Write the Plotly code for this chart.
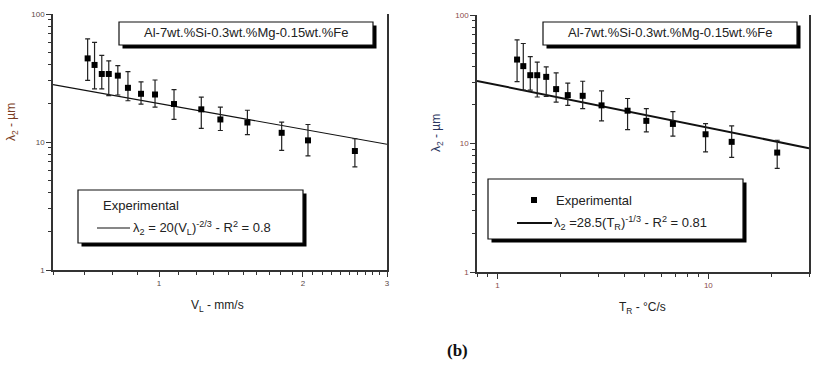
import plotly.graph_objects as go
import math

# ---------------- data ----------------
VL = [0.709, 0.733, 0.759, 0.785, 0.820, 0.861, 0.917, 0.981, 1.075, 1.226, 1.344, 1.531, 1.806, 2.05, 2.57]
TR = [1.239, 1.326, 1.431, 1.544, 1.703, 1.898, 2.155, 2.536, 3.116, 4.14, 5.08, 6.79, 9.7, 12.9, 21.2]
lam2 = [45, 40, 34, 34, 33, 26.5, 23.8, 23.5, 19.8, 18, 15, 14.2, 11.8, 10.3, 8.5]
lam2_upper = [64, 60, 47.5, 43, 39.5, 35.5, 29.5, 30.5, 25.7, 22.4, 18.7, 17.7, 14.3, 13.7, 10.6]
lam2_lower = [30.3, 26, 26, 23, 23.3, 21, 19.8, 18.7, 15, 12.8, 12.3, 11.4, 8.6, 7.8, 6.4]

fitV_x = [0.6, 3.0]
fitV_y = [28.1, 9.6]
fitT_x = [0.8, 30.0]
fitT_y = [30.7, 9.2]

err_plus = [u - m for u, m in zip(lam2_upper, lam2)]
err_minus = [m - l for m, l in zip(lam2, lam2_lower)]

W, H = 813, 366
def px(x): return x / W
def py(y): return 1 - y / H

FONT = "Arial, Liberation Sans, sans-serif"
AX = "#333333"

fig = go.Figure()

for xs, fx, fy, xa, ya, lw in [(VL, fitV_x, fitV_y, "x", "y", 1.2),
                                (TR, fitT_x, fitT_y, "x2", "y2", 2.0)]:
    fig.add_trace(go.Scatter(
        x=fx, y=fy, mode="lines", line=dict(color="#111111", width=lw),
        xaxis=xa, yaxis=ya, showlegend=False, hoverinfo="skip"))
    fig.add_trace(go.Scatter(
        x=xs, y=lam2, mode="markers",
        marker=dict(symbol="square", size=6, color="#000000"),
        error_y=dict(type="data", symmetric=False, array=err_plus, arrayminus=err_minus,
                     color="#222222", thickness=1.2, width=2.5),
        xaxis=xa, yaxis=ya, showlegend=False))

tickfont_l = dict(family=FONT, size=8, color="#5a4848")
tickfont_r = dict(family=FONT, size=8, color="#8a4a4a")

common_x = dict(type="log", showgrid=False, zeroline=False, showline=True, linecolor=AX,
                linewidth=1.5, ticks="outside", ticklen=5, tickcolor=AX, tickwidth=1.2,
                automargin=False)
common_y = dict(type="log", range=[0, 2], showgrid=False, zeroline=False, showline=True,
                linecolor=AX, linewidth=1.5, mirror=True, ticks="outside", ticklen=5,
                tickcolor=AX, tickwidth=1.2, tickmode="array", tickvals=[1, 10, 100],
                ticktext=["1", "10", "100"], automargin=False,
                minor=dict(dtick="D1", ticks="outside", ticklen=3, tickcolor=AX, showgrid=False))

fig.update_layout(
    width=W, height=H, margin=dict(l=0, r=0, t=0, b=0, autoexpand=False),
    paper_bgcolor="white", plot_bgcolor="white", showlegend=False,
    xaxis=dict(**common_x, domain=[px(53), px(387)], anchor="y",
               range=[math.log10(0.6), math.log10(3)],
               tickmode="array", tickvals=[1, 2, 3], ticktext=["1", "2", "3"],
               tickfont=tickfont_l,
               minor=dict(dtick="L0.1", ticks="outside", ticklen=3, tickcolor=AX, showgrid=False)),
    yaxis=dict(**common_y, domain=[py(270), py(14)], anchor="x", tickfont=tickfont_l),
    xaxis2=dict(**common_x, domain=[px(477), px(809)], anchor="y2",
                range=[math.log10(0.8), math.log10(30)],
                tickmode="array", tickvals=[1, 10], ticktext=["1", "10"],
                tickfont=tickfont_r,
                minor=dict(dtick="D1", ticks="outside", ticklen=3, tickcolor=AX, showgrid=False)),
    yaxis2=dict(**common_y, domain=[py(272), py(15)], anchor="x2", tickfont=tickfont_r),
)

shapes = []
def box(x0, y0, x1, y1, sh=3.5):
    shapes.append(dict(type="rect", xref="paper", yref="paper",
                       x0=px(x0 + sh), x1=px(x1 + sh), y0=py(y1 + sh), y1=py(y0 + sh),
                       fillcolor="#000000", line=dict(width=0), layer="above"))
    shapes.append(dict(type="rect", xref="paper", yref="paper",
                       x0=px(x0), x1=px(x1), y0=py(y1), y1=py(y0),
                       fillcolor="white", line=dict(color="#111111", width=1.2), layer="above"))

box(119, 22, 373, 45)
box(543, 22, 797, 45)
box(78, 190, 303, 243)
box(488, 179, 743, 239)

# legend samples
shapes.append(dict(type="line", xref="paper", yref="paper", x0=px(97), x1=px(130), y0=py(228), y1=py(228),
                   line=dict(color="#111111", width=1.2), layer="above"))
shapes.append(dict(type="line", xref="paper", yref="paper", x0=px(517), x1=px(552), y0=py(223), y1=py(223),
                   line=dict(color="#111111", width=2), layer="above"))
shapes.append(dict(type="rect", xref="paper", yref="paper", x0=px(531), x1=px(537), y0=py(203), y1=py(197),
                   fillcolor="#000000", line=dict(width=0), layer="above"))
fig.update_layout(shapes=shapes)

ann = []
def text(x, y, s, size=12, xanchor="center", color="#222222", angle=0, family=FONT):
    ann.append(dict(x=px(x), y=py(y), xref="paper", yref="paper", text=s, showarrow=False,
                    xanchor=xanchor, yanchor="middle", textangle=angle,
                    font=dict(family=family, size=size, color=color)))

text(246, 33, "Al-7wt.%Si-0.3wt.%Mg-0.15wt.%Fe", size=13)
text(670, 33, "Al-7wt.%Si-0.3wt.%Mg-0.15wt.%Fe", size=13)
text(101, 206, "Experimental", size=13, xanchor="left")
text(131, 228, "λ<sub>2</sub> = 20(V<sub>L</sub>)<sup>-2/3</sup> - R<sup>2</sup> = 0.8", size=13, xanchor="left")
text(554, 200, "Experimental", size=13, xanchor="left")
text(552, 223, "λ<sub>2</sub> =28.5(T<sub>R</sub>)<sup>-1/3</sup> - R<sup>2</sup> = 0.81", size=13, xanchor="left")

text(12, 122, "λ<sub>2</sub> - µm", size=12, angle=-90, color="#7a3b22")
text(437, 133, "λ<sub>2</sub> - µm", size=12, angle=-90, color="#2a3560")
text(217, 306, "V<sub>L</sub> - mm/s", size=12)
text(642, 308, "T<sub>R</sub> - °C/s", size=12)
text(457, 350, "<b>(b)</b>", size=17, color="#111111", family="Liberation Serif, Times New Roman, serif")
fig.update_layout(annotations=ann)

fig.write_html("out.html", config={"displayModeBar": False},
               post_script="document.body.style.margin='0px';document.body.style.overflow='hidden';")
